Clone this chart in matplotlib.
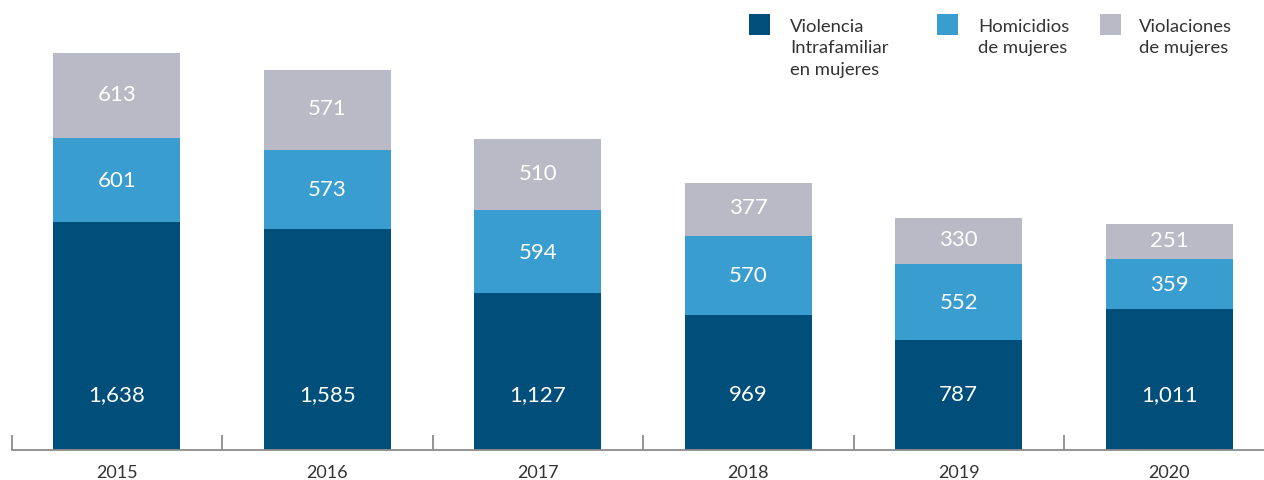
import matplotlib
matplotlib.use("Agg")
import matplotlib.pyplot as plt
from matplotlib.patches import Rectangle
import numpy as np

plt.rcParams['font.family'] = ['Lato', 'DejaVu Sans']

years = ["2015", "2016", "2017", "2018", "2019", "2020"]
violencia = [1638, 1585, 1127, 969, 787, 1011]
homicidios = [601, 573, 594, 570, 552, 359]
violaciones = [613, 571, 510, 377, 330, 251]

series_labels = ["Violencia\nIntrafamiliar\nen mujeres",
                 "Homicidios\nde mujeres",
                 "Violaciones\nde mujeres"]
colors = ["#004f7a", "#3a9dd0", "#babac6"]
text_color = "#333333"

W, H = 1264, 481
fig = plt.figure(figsize=(W / 100, H / 100), dpi=100)
ax = fig.add_axes([11.5 / W, 30 / H, 1263 / W, 397 / H])

x = np.arange(len(years))
width = 0.603
v = np.array(violencia)
h = np.array(homicidios)
g = np.array(violaciones)

ax.bar(x, v, width, color=colors[0], zorder=2)
ax.bar(x, h, width, bottom=v, color=colors[1], zorder=2)
ax.bar(x, g, width, bottom=v + h, color=colors[2], zorder=2)

# value labels
for i in range(len(years)):
    ax.text(x[i], 402, f"{v[i]:,}", ha="center", va="center",
            color="white", fontsize=16)
    ax.text(x[i], v[i] + h[i] / 2, f"{h[i]:,}", ha="center", va="center",
            color="white", fontsize=16)
    ax.text(x[i], v[i] + h[i] + g[i] / 2 + 15, f"{g[i]:,}", ha="center",
            va="center", color="white", fontsize=16)

ax.set_xlim(-0.5, len(years) - 0.5)
ax.set_ylim(0, 2852)
ax.set_yticks([])
for s in ["top", "right", "left"]:
    ax.spines[s].set_visible(False)
ax.spines["bottom"].set_color("#8c8c8c")
ax.spines["bottom"].set_linewidth(1.3)

ax.set_xticks(np.arange(-0.5, len(years)), labels=[""] * (len(years) + 1))
ax.tick_params(axis="x", which="major", direction="in", length=11,
               width=1.3, color="#8c8c8c")
ax.set_xticks(x, labels=years, minor=True)
ax.tick_params(axis="x", which="minor", length=0, pad=10,
               labelsize=13, labelcolor=text_color)

# legend drawn in figure pixel coordinates
sq_x = [749, 937, 1100]
tx_x = [790, 978, 1139]
for k in range(3):
    fig.patches.append(Rectangle((sq_x[k] / W, 1 - 36 / H), 21 / W, 21 / H,
                                 transform=fig.transFigure,
                                 facecolor=colors[k], edgecolor="none"))
    for j, line in enumerate(series_labels[k].split("\n")):
        fig.text(tx_x[k] / W, 1 - (32 + 21.3 * j) / H, line,
                 ha="left", va="baseline", fontsize=13.3, color=text_color)

fig.savefig("out.png", dpi=100)
